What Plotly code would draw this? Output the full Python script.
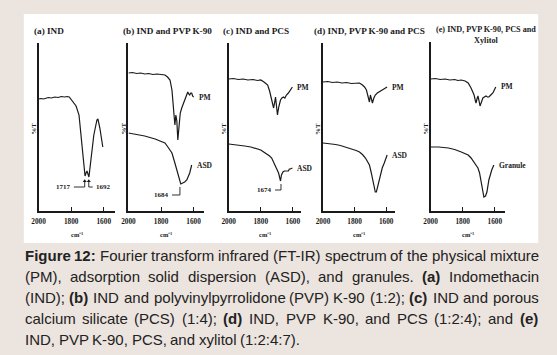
import plotly.graph_objects as go

W, H = 557, 355
BG = "#ece4de"
INK = "#1a1a1a"
SERIF = "Liberation Serif, Times New Roman, serif"
SANS = "Liberation Sans, Arial, sans-serif"

# ---------------- data: wavenumber (cm-1) and %T (arbitrary units) ----------------
a_wn = [2000, 1985, 1970, 1955, 1940, 1921, 1900, 1880, 1861, 1840, 1825, 1812, 1794, 1770, 1752,
        1739, 1727, 1715, 1709, 1703, 1697, 1691, 1679, 1661, 1642, 1636, 1624, 1612, 1606]
a_T = [112, 112.5, 112, 113, 113.5, 113, 114, 113.5, 114.5, 114, 114.5, 114, 110, 105, 96,
       76, 51, 35, 38, 40, 37, 34, 51, 76, 91, 92, 83, 66, 64]

b_pm_wn = [2000, 1975, 1950, 1925, 1900, 1875, 1850, 1825, 1800, 1776, 1760, 1745, 1733, 1727, 1721,
           1715, 1709, 1703, 1697, 1690, 1682, 1673, 1660, 1648, 1636, 1630, 1624, 1618, 1612, 1606, 1600]
b_pm_T = [138, 138.5, 137.5, 138, 137, 137.5, 136.5, 137, 136.5, 136, 134, 131, 121, 110, 98,
          86, 96, 90, 71, 85, 98, 103, 108, 113, 119, 117, 116, 118, 118, 115, 114]
b_asd_wn = [2000, 1979, 1958, 1930, 1900, 1879, 1855, 1836, 1806, 1776, 1758, 1745, 1733, 1715, 1697,
            1684, 1679, 1667, 1655, 1642, 1630, 1624, 1612]
b_asd_T = [78, 77.5, 77, 76, 75, 74, 73, 72, 70, 68, 64, 61, 58, 48, 38,
           30, 27, 28, 29, 31, 35, 38, 46]

c_pm_wn = [2000, 1970, 1940, 1910, 1880, 1850, 1820, 1800, 1780, 1757, 1745, 1732, 1720, 1714, 1708,
           1702, 1696, 1688, 1677, 1668, 1659, 1650, 1640, 1628, 1616, 1603]
c_pm_T = [132, 132.5, 131.5, 132, 131, 131.5, 130.5, 131, 129, 126, 120, 111, 103, 108, 114,
          105, 96, 104, 111, 113, 114, 113, 116, 118, 121, 124]
c_asd_wn = [2000, 1960, 1930, 1900, 1862, 1830, 1800, 1782, 1760, 1745, 1732, 1720, 1708, 1698, 1689,
            1677, 1671, 1662, 1653, 1640, 1628, 1622, 1616, 1603]
c_asd_T = [67, 66.5, 66, 65, 64, 62.5, 61, 59, 57, 55, 53, 49, 44, 41, 38,
           30, 36, 39, 40, 40, 40, 42, 42, 43]

d_pm_wn = [2000, 1970, 1940, 1910, 1880, 1850, 1820, 1790, 1769, 1750, 1737, 1725, 1719, 1712, 1706,
           1700, 1694, 1687, 1678, 1669, 1656, 1644, 1632, 1625, 1612, 1600, 1594]
d_pm_T = [129, 129.5, 128.5, 129, 128, 128.5, 127.5, 128, 128, 126, 124, 121, 118, 112, 109,
          116, 112, 108, 113, 116, 118, 119, 120, 121, 122, 123, 124]
d_asd_wn = [2000, 1960, 1920, 1890, 1856, 1820, 1790, 1769, 1750, 1731, 1715, 1706, 1694, 1681, 1675,
            1669, 1662, 1656, 1645, 1637, 1625, 1612, 1600, 1594]
d_asd_T = [68, 67.5, 66.5, 65.5, 64, 62, 60.5, 59, 56.5, 53, 49, 46, 38, 28, 22,
           19, 19, 23, 31, 38, 43, 48, 53, 56]

e_pm_wn = [2000, 1970, 1940, 1910, 1880, 1850, 1830, 1809, 1785, 1766, 1748, 1729, 1722, 1717, 1711,
           1705, 1698, 1692, 1683, 1674, 1665, 1655, 1646, 1637, 1625, 1612, 1603, 1594]
e_pm_T = [132, 132.5, 131.5, 132, 131, 131.5, 130.5, 131, 130, 128, 123, 116, 111, 108, 112,
          115, 110, 105, 109, 113, 114, 115, 114, 114, 116, 118, 121, 124]
e_gr_wn = [2000, 1950, 1889, 1850, 1809, 1785, 1766, 1748, 1729, 1715, 1705, 1695, 1686, 1677, 1668,
           1658, 1649, 1637, 1628, 1619, 1606]
e_gr_T = [64, 64, 63, 61.5, 59, 57.5, 56, 53, 49, 46, 43, 38, 31, 21, 14,
          15, 19, 31, 37, 41, 46]

panel_titles = ["(a) IND", "(b) IND and PVP K-90", "(c) IND and PCS",
                "(d) IND, PVP K-90 and PCS", "(e) IND, PVP K-90, PCS and<br>Xylitol"]
tick_vals = [2000, 1800, 1600]
tick_text = ["2000", "1800", "1600"]
x_title = "cm\u207b\u00b9"
y_title = "%T"

series = [
    [("", a_wn, a_T)],
    [("PM", b_pm_wn, b_pm_T), ("ASD", b_asd_wn, b_asd_T)],
    [("PM", c_pm_wn, c_pm_T), ("ASD", c_asd_wn, c_asd_T)],
    [("PM", d_pm_wn, d_pm_T), ("ASD", d_asd_wn, d_asd_T)],
    [("PM", e_pm_wn, e_pm_T), ("Granule", e_gr_wn, e_gr_T)],
]

# peak labels: panel, wavenumber, text, side of text, baseline T, tip T, dash length px
peaks = [
    (0, 1717, "1717", "left", 24, 30, 11),
    (0, 1692, "1692", "right", 24, 30, 4),
    (1, 1684, "1684", "left", 16, 24, 8),
    (2, 1674, "1674", "left", 21, 27, 6),
]

caption_lines = [
    "Figure 12: Fourier transform infrared (FT-IR) spectrum of the physical mixture",
    "(PM), adsorption solid dispersion (ASD), and granules. (a) Indomethacin",
    "(IND); (b) IND and polyvinylpyrrolidone (PVP) K-90 (1:2); (c) IND and porous",
    "calcium silicate (PCS) (1:4); (d) IND, PVP K-90, and PCS (1:2:4); and (e)",
    "IND, PVP K-90, PCS, and xylitol (1:2:4:7).",
]
bold_words = {"Figure", "12:", "(a)", "(b)", "(c)", "(d)", "(e)"}

# ---------------- layout geometry (pixels) ----------------
geom = [  # x of 2000 tick, px per 200 cm-1, right end of axis, top of y axis
    (32, 33, 109, 43),
    (123, 33, 200, 43),
    (224.5, 32.5, 298, 43),
    (320, 32, 392.5, 43),
    (429, 32.5, 504, 42),
]
BOTTOM = 211
title_pos = [(25, 31, "left"), (115, 31, "left"), (217, 31, "left"), (309, 31, "left"), (485, 35, "center")]
title_size = [9.2, 9.2, 9.2, 9.2, 8.2]


def py(v):
    return 1 - v / H


fig = go.Figure()
layout = dict(width=W, height=H, autosize=False, margin=dict(l=0, r=0, t=0, b=0),
              paper_bgcolor=BG, plot_bgcolor="rgba(0,0,0,0)", showlegend=False,
              shapes=[], annotations=[])

layout["shapes"].append(dict(type="rect", xref="paper", yref="paper", x0=17 / W, x1=538 / W,
                             y0=py(243), y1=py(14), fillcolor="white", line=dict(width=0), layer="below"))

lab_font = dict(family=SERIF, size=7.5, color=INK, weight="bold")

for i, (x0, s, x1, top) in enumerate(geom):
    n = "" if i == 0 else str(i + 1)
    wn_end = 2000 - (x1 - x0) * 200 / s
    layout["xaxis" + n] = dict(domain=[x0 / W, x1 / W], range=[2000, wn_end], anchor="y" + n,
                               showline=True, linecolor=INK, linewidth=1.5, ticks="inside", ticklen=4,
                               tickwidth=1.3, tickcolor=INK, tickvals=tick_vals, ticktext=tick_text,
                               tickfont=dict(family=SERIF, size=7.3, color=INK, weight="bold"),
                               ticklabelstandoff=2,
                               showgrid=False, zeroline=False, fixedrange=True)
    layout["yaxis" + n] = dict(domain=[py(BOTTOM), py(top)], range=[0, BOTTOM - top], anchor="x" + n,
                               showline=True, linecolor=INK, linewidth=1.5, ticks="", showticklabels=False,
                               showgrid=False, zeroline=False, fixedrange=True)
    for name, xs, ys in series[i]:
        fig.add_trace(go.Scatter(x=xs, y=ys, mode="lines", xaxis="x" + n, yaxis="y" + n,
                                 line=dict(color=INK, width=1.2), hoverinfo="skip", cliponaxis=False))
        if name:
            layout["annotations"].append(dict(x=xs[-1], y=ys[-1], xref="x" + n, yref="y" + n, text=name,
                                              showarrow=False, xanchor="left", yanchor="middle", xshift=3,
                                              font=lab_font))
    tx, ty, ta = title_pos[i]
    layout["annotations"].append(dict(x=tx / W, y=py(ty), xref="paper", yref="paper", text=panel_titles[i],
                                      showarrow=False, xanchor=ta, yanchor="middle", align="center",
                                      font=dict(family=SERIF, size=title_size[i], color=INK, weight="bold")))
    layout["annotations"].append(dict(x=0.5, y=py(234), xref="x" + n + " domain", yref="paper", text=x_title,
                                      showarrow=False, xanchor="center", yanchor="middle",
                                      font=dict(family=SERIF, size=6.5, color=INK, weight="bold")))
    layout["annotations"].append(dict(x=(x0 - 5) / W, y=py(129), xref="paper", yref="paper", text=y_title,
                                      showarrow=False, textangle=-90, xanchor="center", yanchor="middle",
                                      font=dict(family=SERIF, size=7, color=INK, weight="bold")))

for (i, wn, txt, side, tb, tt, dash) in peaks:
    x0, s, x1, top = geom[i]
    n = "" if i == 0 else str(i + 1)
    d = dash * 200 / s
    wn_dash = wn + d if side == "left" else wn - d
    fig.add_trace(go.Scatter(x=[wn_dash, wn, wn], y=[tb, tb, tt], mode="lines", xaxis="x" + n, yaxis="y" + n,
                             line=dict(color=INK, width=0.9), hoverinfo="skip", cliponaxis=False))
    if i == 0:
        fig.add_trace(go.Scatter(x=[wn], y=[tt], mode="markers", xaxis="x" + n, yaxis="y" + n,
                                 marker=dict(symbol="triangle-up", size=3.5, color=INK), hoverinfo="skip",
                                 cliponaxis=False))
    layout["annotations"].append(dict(x=wn_dash, y=tb, xref="x" + n, yref="y" + n, text=txt, showarrow=False,
                                      xanchor="right" if side == "left" else "left", yanchor="middle",
                                      xshift=-1 if side == "left" else 1,
                                      font=dict(family=SERIF, size=7, color=INK, weight="bold")))

# ---------------- caption (justified, Arial metrics) ----------------
REG = {" ": 278, "(": 333, ")": 333, ",": 278, "-": 333, ".": 278, ":": 278, ";": 278}
for ch in "0123456789":
    REG[ch] = 556
REG.update(dict(zip("ABCDEFGHIJKLMNOPQRSTUVWXYZ",
                    [667, 667, 722, 722, 667, 611, 778, 722, 278, 500, 667, 556, 833, 722, 778, 667, 778, 722,
                     667, 611, 722, 667, 944, 667, 667, 611])))
REG.update(dict(zip("abcdefghijklmnopqrstuvwxyz",
                    [556, 556, 500, 556, 556, 278, 556, 556, 222, 222, 500, 222, 833, 556, 556, 556, 556, 333,
                     500, 278, 556, 500, 722, 500, 500, 500])))
BOLD = dict(REG)
BOLD.update({":": 333, "b": 611, "d": 611, "g": 611, "i": 278, "r": 389, "u": 611, "c": 556})

CAP_SIZE = 15
CAP_L, CAP_R = 17, 537
cap_y = [255, 276.5, 297, 318, 339]


def tw(word, bold):
    tbl = BOLD if bold else REG
    return sum(tbl.get(ch, 556) for ch in word) * CAP_SIZE / 1000


for li, line in enumerate(caption_lines):
    words = line.split(" ")
    widths = [tw(w, w in bold_words) for w in words]
    if li < len(caption_lines) - 1:
        gap = (CAP_R - CAP_L - sum(widths)) / (len(words) - 1)
    else:
        gap = REG[" "] * CAP_SIZE / 1000
    x = CAP_L
    for w, wd in zip(words, widths):
        txt = "<b>" + w + "</b>" if w in bold_words else w
        layout["annotations"].append(dict(x=x / W, y=py(cap_y[li]), xref="paper", yref="paper", text=txt,
                                          showarrow=False, xanchor="left", yanchor="middle", borderpad=0,
                                          font=dict(family=SANS, size=CAP_SIZE, color="#222222")))
        x += wd + gap

fig.update_layout(**layout)
fig.write_html("out.html", config={"displayModeBar": False},
               post_script="document.body.style.margin='0';document.body.style.background='%s';" % BG)
